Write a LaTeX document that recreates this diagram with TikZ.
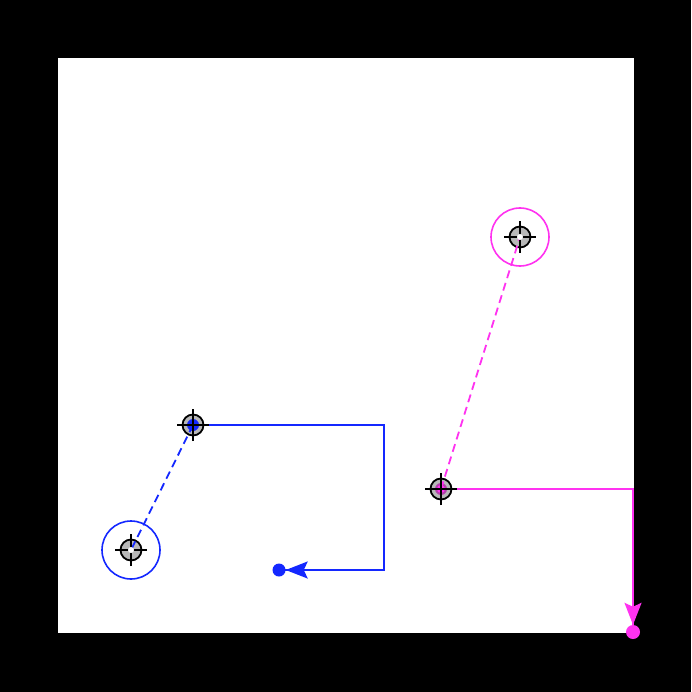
\documentclass[tikz,border=0pt]{standalone}
\usetikzlibrary{arrows.meta, positioning}

\definecolor{trackblue}{RGB}{20,40,255}
\definecolor{trackpink}{RGB}{255,50,240}

\begin{document}
\begin{tikzpicture}[x=1pt, y=-1pt,
    disc/.style={circle, draw=black, line width=1.8pt, fill=black!28, minimum size=21pt, inner sep=0pt},
    ring/.style={circle, draw, line width=1.6pt, minimum size=58pt, inner sep=0pt},
    hair/.style={black, line width=2pt},
    path/.style={line width=1.8pt},
    guess/.style={line width=1.8pt, dash pattern=on 8pt off 5pt},
    tip/.style={-{Stealth[length=22pt, width=17pt, inset=4pt]}}]

    % background and field
    \fill[black] (0,0) rectangle (691,692);
    \fill[white] (58,58) rectangle (634,633);
    \useasboundingbox (0,0) rectangle (691,692);

    % Blue track
    % target ring and disc
    \node[ring, draw=trackblue] (bluering) at (131,550) {};
    \node[disc] (bluetarget) at (131,550) {};
    % current position
    \node[disc] (bluepos) at (193,425) {};
    \fill[trackblue] (bluepos.center) circle (6pt);
    % estimate line
    \draw[guess, trackblue] (bluepos.center) -- (bluetarget.center);
    % planned route
    \coordinate (bluea) at (384,425);
    \coordinate (blueb) at (384,570);
    \node[circle, fill=trackblue, minimum size=13pt, inner sep=0pt] (blueend) at (279,570) {};
    \draw[path, trackblue] (bluepos.center) -- (bluea) -- (blueb) -- (blueend.center);
    \draw[path, trackblue, tip] (blueb) -- (blueend.east);

    % Pink track
    % target ring and disc
    \node[ring, draw=trackpink] (pinkring) at (520,237) {};
    \node[disc] (pinktarget) at (520,237) {};
    % current position
    \node[disc] (pinkpos) at (441,489) {};
    \fill[trackpink!70!black, opacity=0.8] (pinkpos.center) circle (6pt);
    \fill[trackpink] (pinkpos.center) circle (4pt);
    % estimate line
    \draw[guess, trackpink] (pinkpos.center) -- (pinktarget.center);
    % planned route
    \coordinate (pinka) at (633,489);
    \node[circle, fill=trackpink, minimum size=14pt, inner sep=0pt] (pinkend) at (633,632) {};
    \draw[path, trackpink] (pinkpos.center) -- (pinka) -- (pinkend.center);
    \draw[path, trackpink, tip] (pinka) -- (pinkend.north);

    % crosshairs and centre marks
    \foreach \n in {bluetarget, bluepos, pinktarget, pinkpos} {
        \draw[hair] ([xshift=-16pt]\n.center) -- ([xshift=16pt]\n.center);
        \draw[hair] ([yshift=-16pt]\n.center) -- ([yshift=16pt]\n.center);
    }
    \fill[white] (bluetarget.center) circle (3pt);
    \fill[white] (pinktarget.center) circle (3pt);

\end{tikzpicture}
\end{document}
